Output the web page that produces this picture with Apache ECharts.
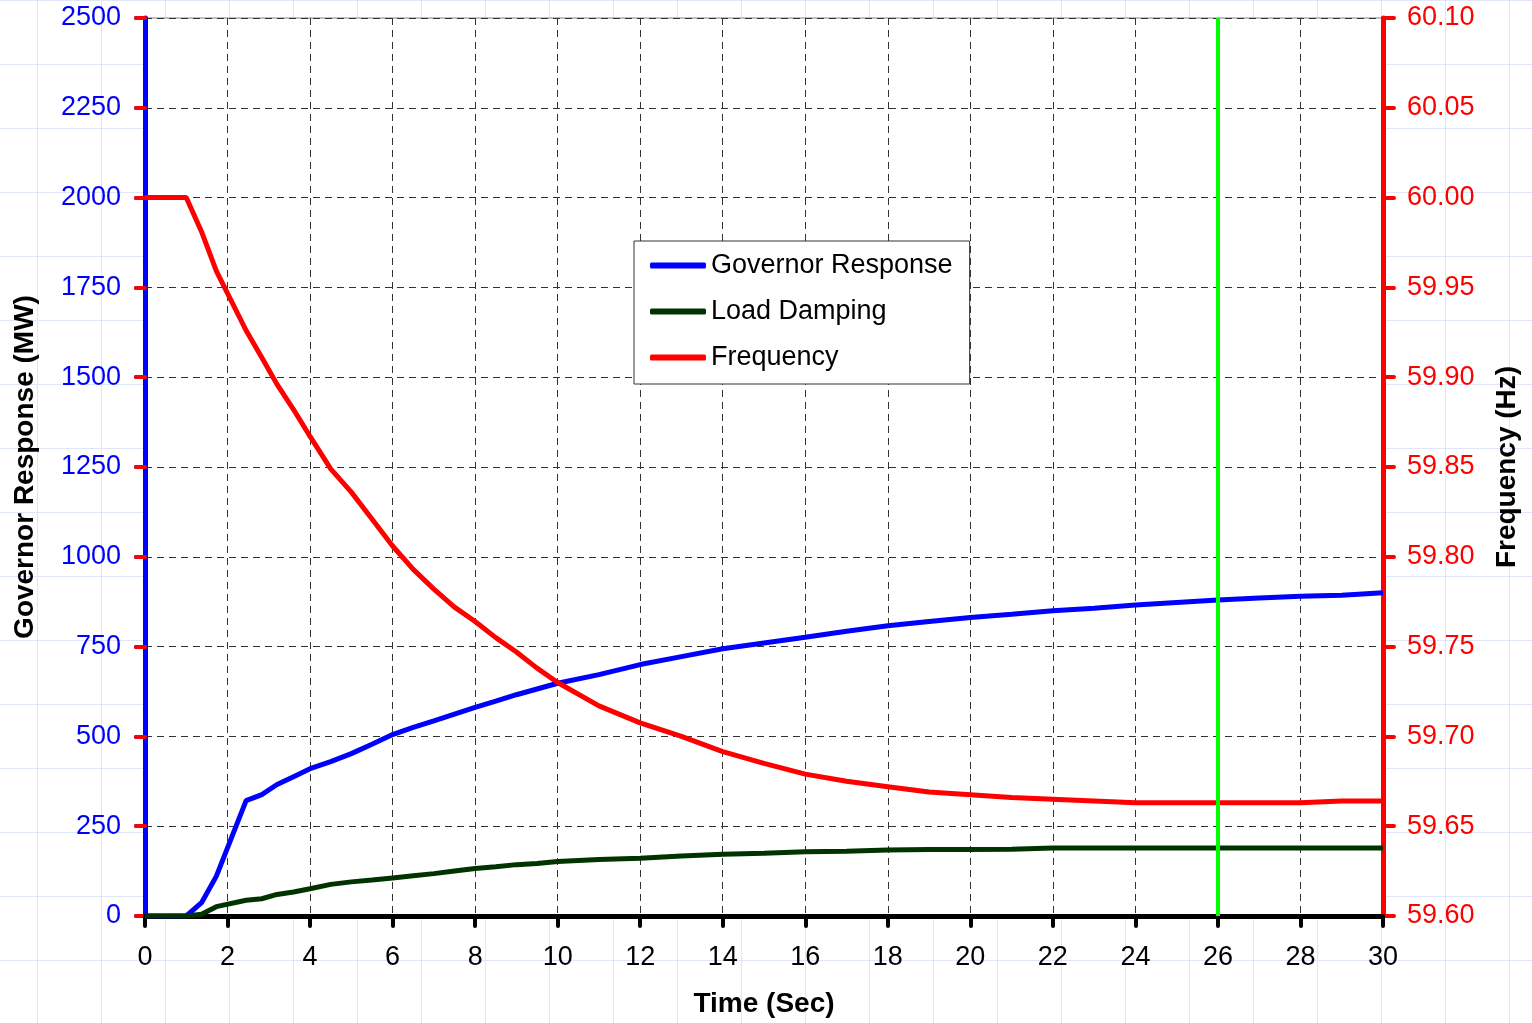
<!DOCTYPE html>
<html>
<head>
<meta charset="utf-8">
<script src="https://cdn.jsdelivr.net/npm/echarts@6/dist/echarts.min.js"></script>
<style>
  html, body { margin:0; padding:0; width:1532px; height:1023px; overflow:hidden;
    background-color:#ffffff;
    background-image:
      linear-gradient(to right, #dfe6fa 1px, transparent 1px),
      linear-gradient(to bottom, #dfe6fa 1px, transparent 1px);
    background-size:64px 64px;
    background-position:37px 0px;
  }
  #chart { width:1532px; height:1023px; }
</style>
</head>
<body>
<div id="chart"></div>
<script>
// ---- data ----
const timeSec = [0, 1.0, 1.37, 1.73, 2.45, 2.83, 3.2, 3.6, 4.0,
  4.5, 5.0, 5.5, 6, 6.5, 7, 7.5, 8, 8.5, 9, 9.5, 10,
  11, 12, 13, 14, 15, 16, 17, 18, 19, 20, 21, 22, 23, 24, 25, 26, 27, 28, 29, 30];
const governorMW = [0, 0, 37, 111, 321, 338, 366, 388, 410,
  430, 452, 478, 505, 525, 543, 562, 581, 598, 616, 632, 648,
  672, 700, 722, 744, 760, 776, 793, 808, 820, 831, 840, 850, 857, 866, 873, 880, 885, 890, 893, 900];
const dampingMW = [0, 0, 5, 26, 44, 48, 60, 67, 76,
  88, 95, 100, 106, 112, 118, 125, 132, 137, 143, 146, 152,
  157, 161, 167, 172, 175, 179, 180, 184, 185, 185, 186, 189, 189, 189, 189, 189, 189, 189, 189, 189];
const frequencyHz = [60.00, 60.00, 59.981, 59.959, 59.926, 59.911, 59.896, 59.882, 59.867,
  59.849, 59.836, 59.821, 59.806, 59.793, 59.782, 59.772, 59.764, 59.755, 59.747, 59.738, 59.730,
  59.717, 59.7075, 59.700, 59.6915, 59.685, 59.679, 59.675, 59.672, 59.669, 59.6675, 59.666, 59.665,
  59.664, 59.663, 59.663, 59.663, 59.663, 59.663, 59.664, 59.664];
const markerTimeSec = 26;
const seriesNames = ['Governor Response', 'Load Damping', 'Frequency'];
const xAxisTitle = 'Time (Sec)';
const leftAxisTitle = 'Governor Response (MW)';
const rightAxisTitle = 'Frequency (Hz)';

const pairs = (ys) => timeSec.map((t, i) => [t, ys[i]]);
const FONT = '"Liberation Sans", Arial, sans-serif';

const chart = echarts.init(document.getElementById('chart'), null, { renderer: 'canvas' });
chart.setOption({
  backgroundColor: 'transparent',
  animation: false,
  grid: {
    left: 145, right: 149, top: 18, bottom: 103,
    show: true, backgroundColor: '#ffffff', borderColor: '#808080', borderWidth: 1
  },
  legend: {
    data: seriesNames,
    orient: 'vertical',
    left: 634, top: 241,
    padding: [11, 17, 13, 16],
    itemGap: 19,
    itemWidth: 56, itemHeight: 6,
    icon: 'roundRect',
    backgroundColor: '#ffffff',
    borderColor: '#333333', borderWidth: 1,
    textStyle: { fontFamily: FONT, fontSize: 27, color: '#000000' }
  },
  xAxis: {
    type: 'value', min: 0, max: 30, interval: 2,
    name: xAxisTitle, nameLocation: 'middle', nameGap: 74,
    nameTextStyle: { fontFamily: FONT, fontSize: 28, fontWeight: 'bold', color: '#000' },
    axisLine: { onZero: false, lineStyle: { color: '#000', width: 5 } },
    axisTick: { show: true, length: 10, lineStyle: { color: '#000', width: 4, cap: 'round' } },
    axisLabel: { fontFamily: FONT, fontSize: 27, color: '#000', margin: 28 },
    splitLine: { show: true, lineStyle: { color: '#333', width: 1, type: [7, 5] } }
  },
  yAxis: [
    {
      type: 'value', position: 'left', min: 0, max: 2500, interval: 250,
      name: leftAxisTitle, nameLocation: 'middle', nameGap: 106,
      nameTextStyle: { fontFamily: FONT, fontSize: 28, fontWeight: 'bold', color: '#000' },
      axisLine: { show: true, onZero: false, lineStyle: { color: '#0000ff', width: 5 } },
      axisTick: { show: true, length: 9, lineStyle: { color: '#0000ff', width: 4, cap: 'round' } },
      axisLabel: { fontFamily: FONT, fontSize: 27, color: '#0000ff', margin: 24,
        formatter: (v) => String(v) },
      splitLine: { show: true, lineStyle: { color: '#333', width: 1, type: [7, 5] } }
    },
    {
      type: 'value', position: 'right', min: 59.6, max: 60.1, interval: 0.05,
      name: rightAxisTitle, nameLocation: 'middle', nameGap: 110,
      nameTextStyle: { fontFamily: FONT, fontSize: 28, fontWeight: 'bold', color: '#000' },
      axisLine: { show: true, onZero: false, lineStyle: { color: '#ff0000', width: 5 } },
      axisTick: { show: true, length: 11, lineStyle: { color: '#ff0000', width: 4, cap: 'round' } },
      axisLabel: { fontFamily: FONT, fontSize: 27, color: '#ff0000', margin: 24,
        formatter: (v) => v.toFixed(2) },
      splitLine: { show: false }
    },
    {
      type: 'value', position: 'right', min: 59.6, max: 60.1, interval: 0.05,
      axisLine: { show: false },
      axisTick: { show: true, inside: true, length: 9, lineStyle: { color: '#ff0000', width: 4, cap: 'round' } },
      axisLabel: { show: false },
      splitLine: { show: false }
    }
  ],
  series: [
    {
      name: seriesNames[0], type: 'line', yAxisIndex: 0, data: pairs(governorMW),
      symbol: 'none', lineStyle: { color: '#0000ff', width: 5 }, itemStyle: { color: '#0000ff' }
    },
    {
      name: seriesNames[1], type: 'line', yAxisIndex: 0, data: pairs(dampingMW),
      symbol: 'none', lineStyle: { color: '#003300', width: 5 }, itemStyle: { color: '#003300' }
    },
    {
      name: seriesNames[2], type: 'line', yAxisIndex: 1, data: pairs(frequencyHz),
      symbol: 'none', lineStyle: { color: '#ff0000', width: 5 }, itemStyle: { color: '#ff0000' },
      markLine: {
        silent: true, symbol: 'none', label: { show: false },
        lineStyle: { color: '#00ff00', width: 4, type: 'solid' },
        data: [{ xAxis: markerTimeSec }]
      }
    }
  ]
});
</script>
</body>
</html>
